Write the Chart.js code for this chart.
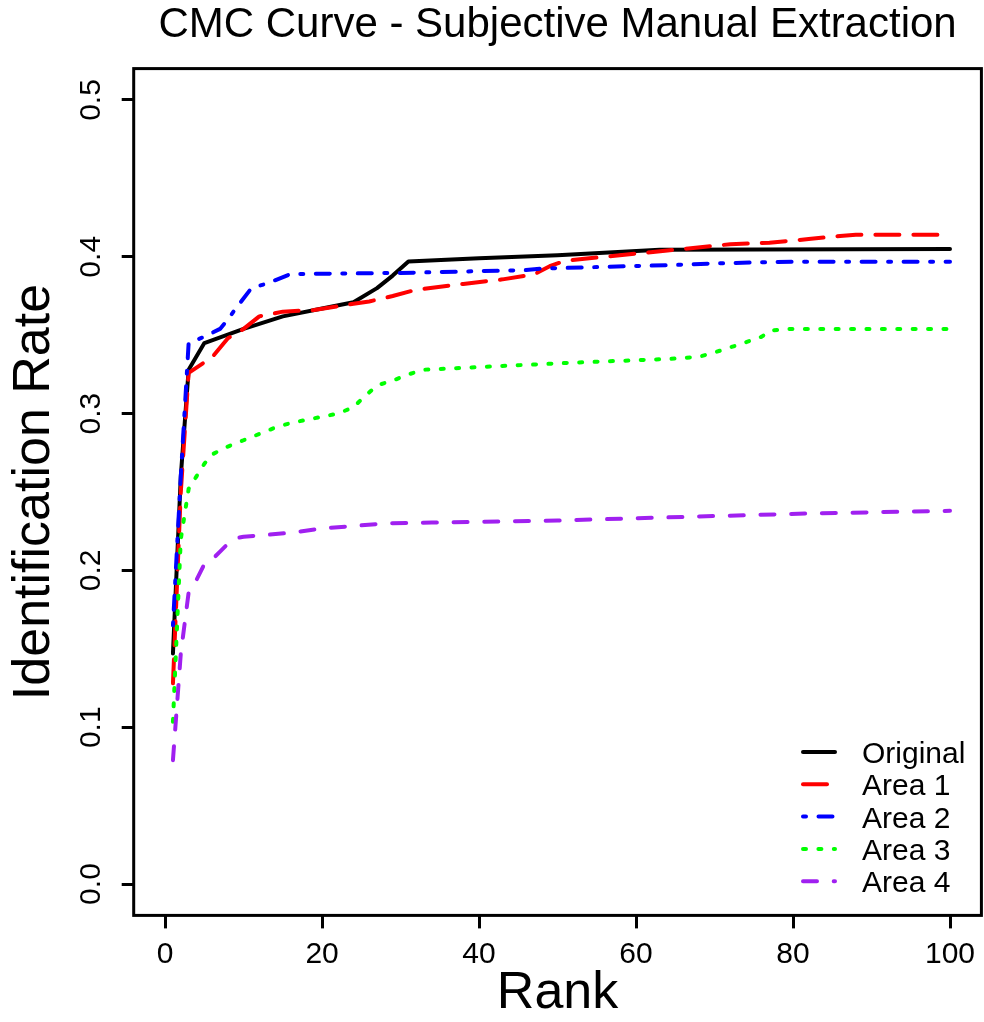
<!DOCTYPE html>
<html>
<head>
<meta charset="utf-8">
<script src="https://cdn.jsdelivr.net/npm/chart.js@4/dist/chart.umd.min.js"></script>
<style>
html, body { margin: 0; padding: 0; background: #ffffff; }
canvas { display: block; }
</style>
</head>
<body>
<canvas id="c" width="984" height="1022"></canvas>
<script>
// ---------- data ----------
const chartTitle = 'CMC Curve - Subjective Manual Extraction';
const xAxisTitle = 'Rank';
const yAxisTitle = 'Identification Rate';
const seriesNames = ['Original', 'Area 1', 'Area 2', 'Area 3', 'Area 4'];
const xTickValues = [0, 20, 40, 60, 80, 100];
const yTickValues = [0.0, 0.1, 0.2, 0.3, 0.4, 0.5];

const ranksOriginal = [1, 2, 3, 5, 10, 15, 20, 24, 27, 29, 31, 40, 50, 63, 100];
const rateOriginal  = [0.147, 0.26, 0.328, 0.345, 0.354, 0.362, 0.367, 0.371, 0.380, 0.388, 0.397, 0.399, 0.401, 0.4045, 0.405];

const ranksArea1 = [1, 2, 3, 6, 8, 10, 12, 15, 19, 24, 26, 29, 32, 38, 43, 47, 49, 51, 57, 64, 72, 77, 82, 86, 88, 100];
const rateArea1  = [0.128, 0.25, 0.326, 0.336, 0.348, 0.354, 0.362, 0.365, 0.366, 0.370, 0.3715, 0.375, 0.379, 0.3827, 0.3856, 0.3888, 0.394, 0.3975, 0.4005, 0.404, 0.408, 0.409, 0.4113, 0.4133, 0.414, 0.414];

const ranksArea2 = [1, 2, 3, 5, 7, 8, 9, 11, 13, 16, 30, 46, 48, 65, 70, 80, 100];
const rateArea2  = [0.165, 0.26, 0.345, 0.349, 0.354, 0.360, 0.367, 0.380, 0.383, 0.389, 0.3897, 0.3915, 0.3925, 0.3948, 0.3958, 0.3969, 0.3969];

const ranksArea3 = [1, 2, 3, 4, 5, 6, 8, 10, 14, 16, 20, 22, 24, 25, 27, 29, 31, 33, 44, 52, 64, 68, 70, 72, 74, 76, 77, 79, 100];
const rateArea3  = [0.1035, 0.22, 0.252, 0.260, 0.268, 0.274, 0.279, 0.283, 0.291, 0.294, 0.298, 0.300, 0.304, 0.309, 0.318, 0.321, 0.325, 0.328, 0.3306, 0.3325, 0.3348, 0.3362, 0.339, 0.3422, 0.3455, 0.349, 0.3527, 0.354, 0.354];

const ranksArea4 = [1, 2, 3, 4, 5, 6, 7, 8, 9, 10, 16, 20, 24, 28, 34, 50, 66, 82, 100];
const rateArea4  = [0.079, 0.147, 0.186, 0.194, 0.204, 0.207, 0.212, 0.217, 0.2205, 0.2215, 0.224, 0.2268, 0.2283, 0.230, 0.2305, 0.2318, 0.2341, 0.2363, 0.238];

const seriesRanks = [ranksOriginal, ranksArea1, ranksArea2, ranksArea3, ranksArea4];
const seriesRates = [rateOriginal, rateArea1, rateArea2, rateArea3, rateArea4];

// ---------- styles ----------
const FONT = "'Liberation Sans', Arial, Helvetica, sans-serif";
const seriesStyles = [
  { color: '#000000', dash: [] },
  { color: '#FF0000', dash: [24, 14] },
  { color: '#0000FF', dash: [3, 12.5, 14, 12.5] },
  { color: '#00FF00', dash: [3, 12.4] },
  { color: '#A020F0', dash: [14, 16.7] }
];
const LINE_W = 4;

Chart.defaults.font.family = FONT;
Chart.defaults.color = '#000000';

const boxPlugin = {
  id: 'rBox',
  afterDraw(chart) {
    const { ctx, chartArea: a } = chart;
    ctx.save();
    ctx.strokeStyle = '#000000';
    ctx.lineWidth = 3;
    ctx.setLineDash([]);
    ctx.strokeRect(a.left, a.top, a.right - a.left, a.bottom - a.top);
    ctx.restore();
  }
};

const legendPlugin = {
  id: 'rLegend',
  afterDraw(chart) {
    const { ctx, chartArea: a } = chart;
    const x0 = a.right - 178.4, x1 = a.right - 146.4, tx = a.right - 119.4;
    const y0 = a.bottom - 163.4, dy = 32.3;
    ctx.save();
    ctx.font = '30px ' + FONT;
    ctx.textAlign = 'left';
    ctx.textBaseline = 'alphabetic';
    chart.data.datasets.forEach((ds, i) => {
      const y = y0 + i * dy;
      ctx.beginPath();
      ctx.setLineDash(ds.borderDash || []);
      ctx.lineDashOffset = 0;
      ctx.lineCap = 'round';
      ctx.lineWidth = ds.borderWidth;
      ctx.strokeStyle = ds.borderColor;
      ctx.moveTo(x0, y);
      ctx.lineTo(x1, y);
      ctx.stroke();
      ctx.setLineDash([]);
      ctx.fillStyle = '#000000';
      ctx.fillText(ds.label, tx, y + 11);
    });
    ctx.restore();
  }
};

const datasets = seriesNames.map((name, i) => ({
  label: name,
  data: seriesRanks[i].map((r, j) => ({ x: r, y: seriesRates[i][j] })),
  borderColor: seriesStyles[i].color,
  borderDash: seriesStyles[i].dash,
  borderWidth: LINE_W,
  borderCapStyle: 'round',
  borderJoinStyle: 'round',
  pointRadius: 0,
  pointHoverRadius: 0,
  tension: 0,
  fill: false,
  order: seriesNames.length - 1 - i
}));

new Chart(document.getElementById('c'), {
  type: 'line',
  data: { datasets },
  plugins: [boxPlugin, legendPlugin],
  options: {
    responsive: false,
    animation: false,
    devicePixelRatio: 1,
    layout: { padding: { top: 0, left: 0, right: 2.6, bottom: 0 } },
    plugins: {
      legend: { display: false },
      tooltip: { enabled: false },
      title: {
        display: true,
        text: chartTitle,
        fullSize: false,
        color: '#000000',
        font: { size: 42, weight: 'normal', family: FONT, lineHeight: 1.2 },
        padding: { top: 0, bottom: 18.2 }
      }
    },
    scales: {
      x: {
        type: 'linear',
        min: -4,
        max: 104,
        afterFit(scale) { scale.height = 106.6; },
        afterBuildTicks(scale) { scale.ticks = xTickValues.map(v => ({ value: v })); },
        ticks: {
          font: { size: 30, family: FONT },
          color: '#000000',
          padding: 8,
          maxRotation: 0,
          minRotation: 0,
          autoSkip: false,
          callback: (v) => String(v)
        },
        grid: { display: true, drawOnChartArea: false, drawTicks: true, tickLength: 13, lineWidth: 3, color: '#000000' },
        border: { display: false },
        title: {
          display: true,
          text: xAxisTitle,
          color: '#000000',
          font: { size: 52, family: FONT, lineHeight: 1 },
          padding: { top: 0, bottom: 2 }
        }
      },
      y: {
        type: 'linear',
        min: -0.02,
        max: 0.52,
        afterFit(scale) { scale.width = 133.7; },
        afterBuildTicks(scale) { scale.ticks = yTickValues.map(v => ({ value: v })); },
        ticks: {
          font: { size: 30, family: FONT },
          color: '#000000',
          padding: 9,
          minRotation: 90,
          maxRotation: 90,
          crossAlign: 'center',
          autoSkip: false,
          callback: (v) => Number(v).toFixed(1)
        },
        grid: { display: true, drawOnChartArea: false, drawTicks: true, tickLength: 12, lineWidth: 3, color: '#000000' },
        border: { display: false },
        title: {
          display: true,
          text: yAxisTitle,
          color: '#000000',
          font: { size: 52, family: FONT, lineHeight: 1 },
          padding: { top: 9, bottom: 0 }
        }
      }
    }
  }
});
</script>
</body>
</html>
